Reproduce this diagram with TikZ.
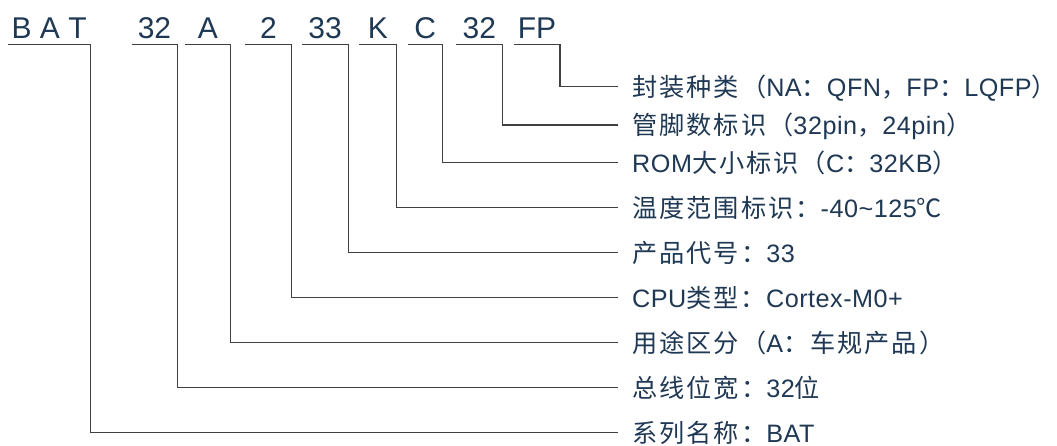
\documentclass[tikz,border=0pt]{standalone}
\usepackage{fontspec}
\setmainfont{Liberation Sans}
\newfontfamily\descfont[LetterSpace=2]{Liberation Sans}
\newfontfamily\cjk[LetterSpace=8]{Noto Sans CJK SC}
\definecolor{codeblue}{RGB}{31,56,84}
\tikzset{
	code/.style={anchor=base, inner xsep=0pt, inner ysep=5.7pt, text depth=0pt, text=codeblue, font=\fontsize{30}{36}\selectfont},
	desc/.style={anchor=base west, inner xsep=14pt, inner ysep=0pt, text height=19.5pt, text depth=0pt, text=codeblue, font=\descfont\fontsize{25.2}{30}\selectfont},
	lead/.style={draw=black!75, line width=1.2pt}
}
\begin{document}
\begin{tikzpicture}[x=1pt,y=-1pt]
	\useasboundingbox (0,0) rectangle (1057,446);
	\node[code, minimum width=82.4] (bat) at (49.1,38.3) {B A T};
	\node[code, minimum width=45.2] (bus) at (154.5,38.3) {32};
	\node[code, minimum width=44.8] (use) at (207.8,38.3) {A};
	\node[code, minimum width=45.6] (cpu) at (268.4,38.3) {2};
	\node[code, minimum width=45.6] (prod) at (325.1,38.3) {33};
	\node[code, minimum width=37.6] (temp) at (377.8,38.3) {K};
	\node[code, minimum width=34.2] (rom) at (425.1,38.3) {C};
	\node[code, minimum width=46] (pins) at (479.4,38.3) {32};
	\node[code, minimum width=45.5] (pkg) at (537,38.3) {FP};
	\node[desc] (pkglabel) at (618,96.45) {{\cjk 封装种类（}NA{\cjk ：}QFN{\cjk ，}FP{\cjk ：}LQFP{\cjk ）}};
	\node[desc] (pinslabel) at (618,134.75) {{\cjk 管脚数标识（}32pin{\cjk ，}24pin{\cjk ）}};
	\node[desc] (romlabel) at (618,172.45) {ROM{\cjk 大小标识（}C{\cjk ：}32KB{\cjk ）}};
	\node[desc] (templabel) at (618,217.45) {{\cjk 温度范围标识：}-40\textasciitilde125{\cjk ℃}};
	\node[desc] (prodlabel) at (618,262) {{\cjk 产品代号：}33};
	\node[desc] (cpulabel) at (618,307.25) {CPU{\cjk 类型：}Cortex-M0+};
	\node[desc] (uselabel) at (618,352) {{\cjk 用途区分（}A{\cjk ：车规产品）}};
	\node[desc] (buslabel) at (618,397) {{\cjk 总线位宽：}32{\cjk 位}};
	\node[desc] (batlabel) at (618,442.45) {{\cjk 系列名称：}BAT};
	\draw[lead] (pkg.south west) -- (pkg.south east) |- (pkglabel.west);
	\draw[lead] (pins.south west) -- (pins.south east) |- (pinslabel.west);
	\draw[lead] (rom.south west) -- (rom.south east) |- (romlabel.west);
	\draw[lead] (temp.south west) -- (temp.south east) |- (templabel.west);
	\draw[lead] (prod.south west) -- (prod.south east) |- (prodlabel.west);
	\draw[lead] (cpu.south west) -- (cpu.south east) |- (cpulabel.west);
	\draw[lead] (use.south west) -- (use.south east) |- (uselabel.west);
	\draw[lead] (bus.south west) -- (bus.south east) |- (buslabel.west);
	\draw[lead] (bat.south west) -- (bat.south east) |- (batlabel.west);
\end{tikzpicture}
\end{document}
